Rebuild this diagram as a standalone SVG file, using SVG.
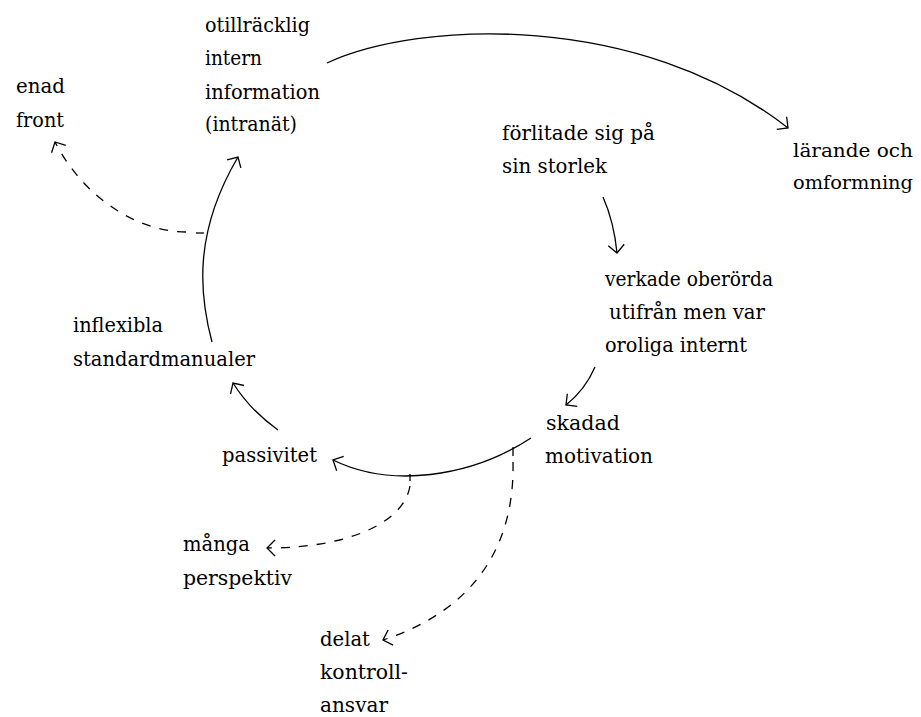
<svg xmlns="http://www.w3.org/2000/svg" width="921" height="717" viewBox="0 0 921 717">
<style>
text{font-family:"DejaVu Serif","Liberation Serif",serif;font-size:21px;fill:#000}
#larande text{font-size:19px}
.c{fill:none;stroke:#000;stroke-width:1.3}
.d{stroke-dasharray:9 9}
</style>
<defs>
<marker id="ah" viewBox="-12 -12 14 24" refX="0" refY="0" markerUnits="userSpaceOnUse" markerWidth="14" markerHeight="24" orient="auto" overflow="visible">
<path d="M-8,-8 L0,0 L-8,8" fill="none" stroke="#000" stroke-width="1.3" stroke-dasharray="none"/>
</marker>
</defs>
<rect width="921" height="717" fill="#fff"/>
<g id="connectors">
<path class="c" d="M327,63 C420,20 640,12 788,128" marker-end="url(#ah)"/>
<path class="c" d="M603,197 Q614,222 617,253" marker-end="url(#ah)"/>
<path class="c" d="M595,367 Q585,390 566,405" marker-end="url(#ah)"/>
<path class="c" d="M531,438 C470,478 390,488 333,460" marker-end="url(#ah)"/>
<path class="c" d="M278,430 Q250,410 233,383" marker-end="url(#ah)"/>
<path class="c" d="M212,342 C198,290 195,230 238,157" marker-end="url(#ah)"/>
<path class="c" d="M410,474 L410,481"/>
<path class="c" d="M513,447 L513,456"/>
<path class="c" d="M196,233 L204,233"/>
<path class="c d" d="M410,486 C404,522 350,548 267,548" marker-end="url(#ah)"/>
<path class="c d" d="M513,462 C515,560 460,615 383,640" marker-end="url(#ah)"/>
<path class="c d" d="M186,232 C140,232 85,200 55,142" marker-end="url(#ah)"/>
</g>
<g id="otillracklig">
<text x="205" y="32" textLength="105" lengthAdjust="spacingAndGlyphs">otillräcklig</text>
<text x="205" y="65" textLength="57" lengthAdjust="spacingAndGlyphs">intern</text>
<text x="205" y="99" textLength="115" lengthAdjust="spacingAndGlyphs">information</text>
<text x="205" y="131" textLength="92" lengthAdjust="spacingAndGlyphs">(intranät)</text>
</g>
<g id="enad">
<text x="16" y="93" textLength="49" lengthAdjust="spacingAndGlyphs">enad</text>
<text x="16" y="127" textLength="48" lengthAdjust="spacingAndGlyphs">front</text>
</g>
<g id="forlitade">
<text x="502" y="140" textLength="153" lengthAdjust="spacingAndGlyphs">förlitade sig på</text>
<text x="502" y="173" textLength="105" lengthAdjust="spacingAndGlyphs">sin storlek</text>
</g>
<g id="larande">
<text x="793" y="157" textLength="120" lengthAdjust="spacingAndGlyphs">lärande och</text>
<text x="793" y="189" textLength="120" lengthAdjust="spacingAndGlyphs">omformning</text>
</g>
<g id="verkade">
<text x="605" y="286" textLength="168" lengthAdjust="spacingAndGlyphs">verkade oberörda</text>
<text x="609" y="319" textLength="156" lengthAdjust="spacingAndGlyphs">utifrån men var</text>
<text x="605" y="352" textLength="142" lengthAdjust="spacingAndGlyphs">oroliga internt</text>
</g>
<g id="inflexibla">
<text x="73" y="332" textLength="90" lengthAdjust="spacingAndGlyphs">inflexibla</text>
<text x="73" y="366" textLength="182" lengthAdjust="spacingAndGlyphs">standardmanualer</text>
</g>
<g id="skadad">
<text x="546" y="430" textLength="74" lengthAdjust="spacingAndGlyphs">skadad</text>
<text x="545" y="463" textLength="108" lengthAdjust="spacingAndGlyphs">motivation</text>
</g>
<g id="passivitet">
<text x="222" y="462" textLength="95" lengthAdjust="spacingAndGlyphs">passivitet</text>
</g>
<g id="manga">
<text x="183" y="551" textLength="67" lengthAdjust="spacingAndGlyphs">många</text>
<text x="183" y="585" textLength="109" lengthAdjust="spacingAndGlyphs">perspektiv</text>
</g>
<g id="delat">
<text x="320" y="646" textLength="50" lengthAdjust="spacingAndGlyphs">delat</text>
<text x="320" y="679" textLength="88" lengthAdjust="spacingAndGlyphs">kontroll-</text>
<text x="320" y="712" textLength="68" lengthAdjust="spacingAndGlyphs">ansvar</text>
</g>
</svg>
